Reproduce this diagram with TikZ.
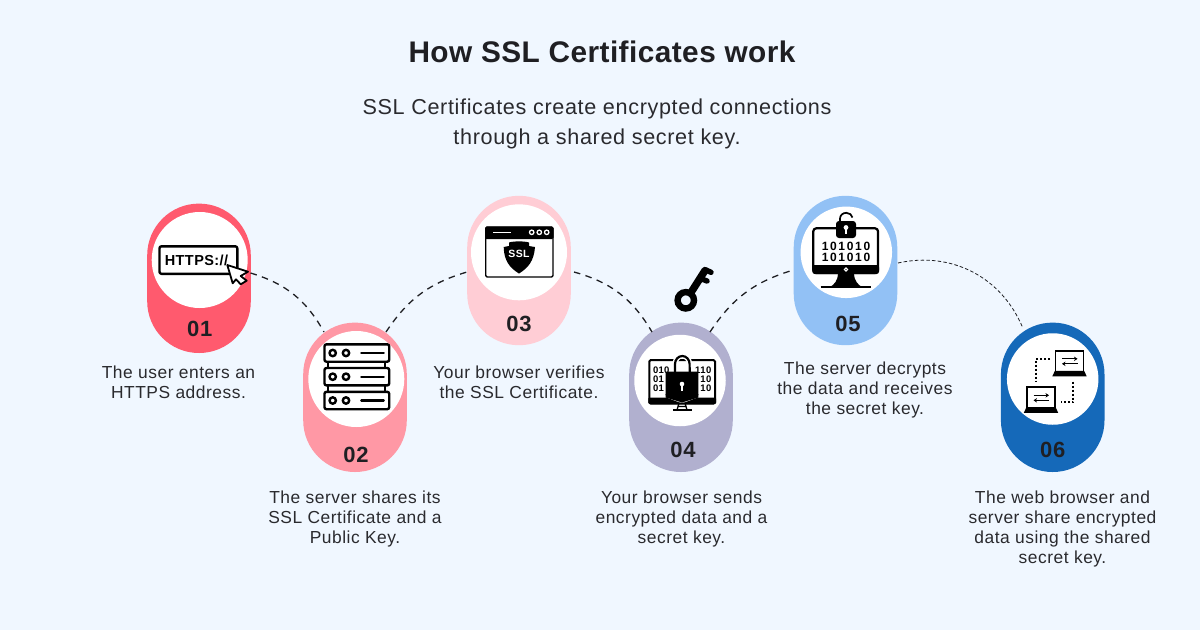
\documentclass[tikz,border=0pt]{standalone}
\usepackage{fontspec}
\setmainfont{Liberation Sans}[LetterSpace=3]
\usetikzlibrary{calc,arrows.meta}
\definecolor{bgc}{HTML}{F0F7FF}
\definecolor{ink}{HTML}{2A2A2E}
\definecolor{numc}{HTML}{1F1F23}
\definecolor{ca}{HTML}{FF5A6E}
\definecolor{cb}{HTML}{FF98A5}
\definecolor{cc}{HTML}{FFCDD5}
\definecolor{cd}{HTML}{B1B0CF}
\definecolor{ce}{HTML}{92C1F5}
\definecolor{cf}{HTML}{1569B9}
\tikzset{
  pill/.style={rectangle,rounded corners=51.7pt,minimum width=103.6pt,minimum height=149.4pt,inner sep=0pt,fill=#1},
  disc/.style={circle,fill=white,inner sep=0pt,minimum size=#1},
  num/.style={inner sep=0pt,text=numc,font=\fontsize{22}{24}\bfseries\selectfont},
  body/.style={inner sep=0pt,align=center,text=ink,font=\fontsize{17.4}{20}\selectfont},
  sub/.style={inner sep=0pt,align=center,text=ink,font=\fontsize{21.6}{30}\selectfont},
  title/.style={inner sep=0pt,text=numc,font=\fontsize{29.8}{32}\bfseries\addfontfeature{LetterSpace=1.5}\selectfont},
  link/.style={draw=numc,line width=1.3pt,dash pattern=on 6.5pt off 5.5pt},
  thinlink/.style={draw=numc,line width=0.8pt,dash pattern=on 3.5pt off 2.2pt},
  icon/.style={draw=black,line width=2.4pt,line join=round,line cap=round},
  bits/.style={inner sep=0pt,text=black,font=\fontsize{#1}{#1}\bfseries\selectfont},
  spaced/.style={inner sep=0pt,text=black,font=\fontsize{#1}{#1}\bfseries\addfontfeature{LetterSpace=14}\selectfont},
  swap/.style={draw=black,line width=1.3pt,-{Stealth[length=3.5pt,width=4.5pt]}},
  dots/.style={draw=black,line width=2pt,dash pattern=on 2pt off 2pt}
}
\begin{document}
\begin{tikzpicture}[x=1pt,y=-1pt]
\fill[bgc] (0,0) rectangle (1200,630);
\useasboundingbox (0,0) rectangle (1200,630);
% pills
\node[pill=ca] (p1) at (199,278.3) {};
\node[pill=cb] (p2) at (355,397.3) {};
\node[pill=cc] (p3) at (519,270.5) {};
\node[pill=cd] (p4) at (681,397.3) {};
\node[pill=ce] (p5) at (845.5,270.5) {};
\node[pill=cf] (p6) at (1052.7,397.3) {};
\node[disc=96pt] (d1) at (199.7,260) {};
\node[disc=96pt] (d2) at (356.3,379) {};
\node[disc=96pt] (d3) at (519,252.3) {};
\node[disc=91.5pt] (d4) at (680,380.5) {};
\node[disc=91.5pt] (d5) at (846.3,252.3) {};
\node[disc=91.5pt] (d6) at (1052.7,379) {};
% connector ends
\coordinate (c12a) at ($(p1.center)+(51.5,-5.3)$);
\coordinate (c12b) at ($(p2.center)+(-31,-65.3)$);
\coordinate (c23a) at ($(p2.center)+(31,-65.3)$);
\coordinate (c23b) at ($(p3.center)+(-52,1.5)$);
\coordinate (c34a) at ($(p3.center)+(55,1.5)$);
\coordinate (c34b) at ($(p4.center)+(-29,-65.3)$);
\coordinate (c45a) at ($(p4.center)+(29,-65.3)$);
\coordinate (c45b) at ($(p5.center)+(-52,-0.5)$);
\coordinate (c56a) at ($(p5.center)+(52.5,-7.5)$);
\coordinate (c56b) at ($(p6.center)+(-30,-69.6)$);
\draw[link] (c12a) to[bend left=22] (c12b);
\draw[link] (c23a) to[bend left=20] (c23b);
\draw[link] (c34a) to[bend left=22] (c34b);
\draw[link] (c45a) to[bend left=20] (c45b);
\draw[thinlink] (c56a) to[bend left=40] (c56b);
% text
\node[title] (t0) at (602,52) {How SSL Certificates work};
\node[sub] (t1) at (597,123.5) {SSL Certificates create encrypted connections\\through a shared secret key.};
\node[num] (n1) at (199.7,329) {01};
\node[num] (n2) at (356,455) {02};
\node[num] (n3) at (519,324) {03};
\node[num] (n4) at (683,450) {04};
\node[num] (n5) at (848,324) {05};
\node[num] (n6) at (1052.7,450) {06};
\node[body] (b1) at (178.5,382.5) {The user enters an\\HTTPS address.};
\node[body] (b2) at (355,518.5) {The server shares its\\SSL Certificate and a\\Public Key.};
\node[body] (b3) at (519,382.5) {Your browser verifies\\the SSL Certificate.};
\node[body] (b4) at (681.5,518.5) {Your browser sends\\encrypted data and a\\secret key.};
\node[body] (b5) at (865,389.5) {The server decrypts\\the data and receives\\the secret key.};
\node[body] (b6) at (1062.5,528.5) {The web browser and\\server share encrypted\\data using the shared\\secret key.};
% icon 01
\draw[icon,fill=white,rounded corners=2pt] (159.5,246.3) rectangle (237.3,273.8);
\node[bits=14.5] (i1) at (196.5,260.5) {HTTPS://};
\draw[icon,fill=white,line width=1.8pt] (227.3,265) -- (248,271.7) -- (240.7,276) -- (246.7,280.7) -- (240.7,284.3) -- (236,279.3) -- (232.7,283.3) -- cycle;
% icon 02
\draw[black,line width=2.4pt] (328,362) -- (328,368) (385,362) -- (385,368) (328,385) -- (328,391) (385,385) -- (385,391);
\foreach \y in {353,376.7,400.5}{
  \draw[icon,rounded corners=2pt,fill=white] (324.5,\y-8.7) rectangle (389.2,\y+8.7);
  \draw[icon] (332.7,\y) circle (3.2) (346,\y) circle (3.2);
  \draw[icon] (361.3,\y) -- (383.7,\y);
}
% icon 03
\draw[black,fill=white,line width=1.4pt,rounded corners=1.5pt] (485.7,227) rectangle (553,277);
\fill[black,rounded corners=1.5pt] (485,226.5) rectangle (553.6,239);
\draw[white,line width=1.3pt] (493.3,232.3) -- (511,232.3);
\foreach \x in {531.7,539.3,546.7}{\draw[white,line width=1.3pt] (\x,232.3) circle (2.2);}
\fill[black] (519,273.5) .. controls (510,268) and (504,261) .. (503.7,247) -- (509,246) -- (509,242.5) .. controls (514,241) and (524,241) .. (529,242.5) -- (529,246) -- (535,247) .. controls (534,261) and (528,268) .. (519,273.5) -- cycle;
\node[bits=10.5,text=white] (i3) at (519,254) {SSL};
% icon 04
\draw[black,fill=white,line width=2pt,rounded corners=1.5pt] (649.3,360) rectangle (715,403.5);
\fill[black,rounded corners=1pt] (648.3,404) -- (648.3,397.5) -- (666,397.5) .. controls (672,399.5) and (680,403) .. (682,403) .. controls (684,403) and (692,399.5) .. (698,397.5) -- (716,397.5) -- (716,404) -- cycle;
\foreach \y in {370,379.5,388.5}{
  \node[bits=9.5,anchor=west] at (652.8,\y) {01};
  \node[bits=9.5,anchor=east] at (711.5,\y) {10};
}
\node[bits=9.5,anchor=west] (i4a) at (664,370) {0};
\node[bits=9.5,anchor=east] (i4b) at (700.5,370) {1};
\draw[white,line width=5pt] (675,372) -- (675,364) arc[start angle=180,end angle=360,x radius=7.3,y radius=8] -- (689.7,372);
\draw[black,line width=2.2pt] (675,372) -- (675,364) arc[start angle=180,end angle=360,x radius=7.3,y radius=8] -- (689.7,372);
\fill[black,rounded corners=1pt] (665.7,371.5) rectangle (698.3,396);
\fill[black] (665.7,394) -- (698.3,394) -- (698.3,397.5) -- (682,402.5) -- (665.7,397.5) -- cycle;
\fill[white] (682,384) circle (2.3);
\draw[white,line width=1.3pt] (682,385) -- (682,391);
\fill[black] (672.7,410.7) -- (691.7,410.7) -- (691.7,409.2) -- (672.7,409.2) -- cycle;
\draw[black,line width=1.3pt] (679,403) -- (677,410) (685,403) -- (687,410) (678,406.5) -- (686,406.5);
% key
\draw[black,line width=6.4pt] (685.8,300.3) circle (8.2);
\draw[black,line width=7.4pt,line cap=round] (691,292.5) -- (705,270.5);
\draw[black,line width=5.4pt,line cap=round] (706,270) -- (711,272.3) (700.5,278.5) -- (707,281);
% icon 05
\draw[black,fill=white,line width=2.2pt,rounded corners=3pt] (813.3,228.3) rectangle (878,273);
\fill[black,rounded corners=2.5pt] (812.3,265) -- (879,265) -- (879,274) -- (812.3,274) -- cycle;
\fill[black] (838,274) -- (854,274) .. controls (854,280) and (858,285) .. (862,287) -- (830,287) .. controls (834,285) and (838,280) .. (838,274) -- cycle;
\draw[black,line width=1.4pt] (820.7,287) -- (870.7,287);
\draw[white,fill=black,line width=1pt] (846,269.5) circle (1.6);
\node[spaced=12] (i5a) at (846,246) {101010};
\node[spaced=12] (i5b) at (846,257.3) {101010};
\draw[black,line width=1.7pt] (840,222) -- (840,218.5) arc[start angle=180,end angle=350,x radius=6.3,y radius=5.7];
\fill[black,rounded corners=3pt] (836,221) rectangle (856,238);
\fill[white] (846,227.5) circle (2.4);
\draw[white,line width=1.6pt] (846,228) -- (846,234);
% icon 06
\foreach \x/\y in {1069.5/350.8,1041/387.3}{
  \draw[black,fill=white,line width=1.7pt] (\x-14,\y) rectangle (\x+14,\y+21);
  \fill[black] (\x-14.6,\y+20) -- (\x+14.6,\y+20) -- (\x+17.2,\y+25.5) -- (\x-17.2,\y+25.5) -- cycle;
  \draw[swap] (\x-7.5,\y+8) -- (\x+8,\y+8);
  \draw[swap] (\x+8,\y+13) -- (\x-7.5,\y+13);
}
\draw[dots] (1050,358.7) -- (1036,358.7) -- (1036,381.7);
\draw[dots] (1073.3,381.7) -- (1073.3,402.3) -- (1060.7,402.3);
\end{tikzpicture}
\end{document}
